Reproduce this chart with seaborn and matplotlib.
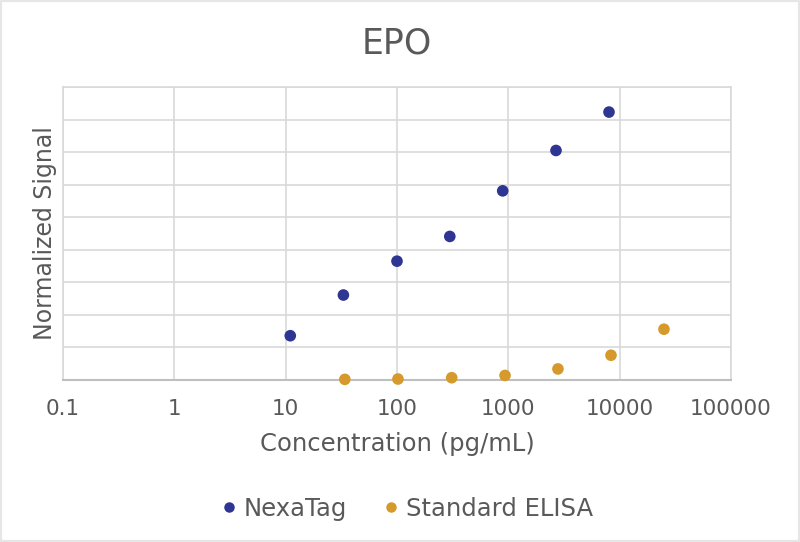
import numpy as np
import pandas as pd
import matplotlib
matplotlib.use("Agg")
import matplotlib.pyplot as plt
import seaborn as sns
from matplotlib.patches import Rectangle

# values
nexatag_conc = [11, 33, 100, 298, 890, 2680, 8020]
nexatag_signal = [1.36, 2.61, 3.65, 4.41, 5.81, 7.05, 8.23]
elisa_conc = [34, 102, 310, 934, 2790, 8360, 25000]
elisa_signal = [0.02, 0.03, 0.07, 0.14, 0.34, 0.76, 1.56]
series_names = ["NexaTag", "Standard ELISA"]
x_ticks = [0.1, 1, 10, 100, 1000, 10000, 100000]
x_tick_labels = ["0.1", "1", "10", "100", "1000", "10000", "100000"]
y_grid = list(range(10))

df = pd.concat([
    pd.DataFrame({"conc": nexatag_conc, "signal": nexatag_signal, "assay": series_names[0]}),
    pd.DataFrame({"conc": elisa_conc, "signal": elisa_signal, "assay": series_names[1]}),
])

sns.set_style("white")
plt.rcParams["font.family"] = ["DejaVu Sans"]
text_col = "#595959"

fig = plt.figure(figsize=(8, 5.42), dpi=100)
ax = fig.add_axes([0.07875, 0.2989, 0.835, 0.5406])

sns.scatterplot(data=df, x="conc", y="signal", hue="assay",
                palette={"NexaTag": "#2e3592", "Standard ELISA": "#d6992c"},
                s=70, linewidth=0, ax=ax, clip_on=False, zorder=3)

ax.set_xscale("log")
ax.set_xlim(0.1, 100000)
ax.set_ylim(0, 9)
ax.set_xticks(x_ticks)
ax.set_xticklabels(x_tick_labels)
ax.minorticks_off()
ax.set_yticks(y_grid)
ax.set_yticklabels([])
ax.tick_params(axis="x", length=0, labelsize=15.5, colors=text_col, pad=14)
ax.tick_params(axis="y", length=0, pad=0)
ax.grid(True, color="#d9d9d9", linewidth=1.2)
ax.set_axisbelow(True)
for side in ["top", "left", "right"]:
    ax.spines[side].set_color("#d9d9d9")
    ax.spines[side].set_linewidth(1.2)
ax.spines["bottom"].set_color("#bfbfbf")
ax.spines["bottom"].set_linewidth(1.5)

ax.set_xlabel("Concentration (pg/mL)", fontsize=17.5, color=text_col, labelpad=9)
ax.set_ylabel("Normalized Signal", fontsize=17, color=text_col, labelpad=4)
ax.set_title("EPO", fontsize=25, color=text_col, pad=24)

handles, labels = ax.get_legend_handles_labels()
ax.legend(handles, labels, loc="center", bbox_to_anchor=(0.512, -0.44),
          ncol=2, frameon=False, fontsize=17.5, labelcolor=text_col,
          handlelength=1.0, handletextpad=0.1, columnspacing=1.3, markerscale=0.9)

fig.patches.append(Rectangle((0, 0), 1, 1, transform=fig.transFigure,
                             fill=False, edgecolor="#e6e6e6", linewidth=3))

fig.savefig("out.png", dpi=100)
